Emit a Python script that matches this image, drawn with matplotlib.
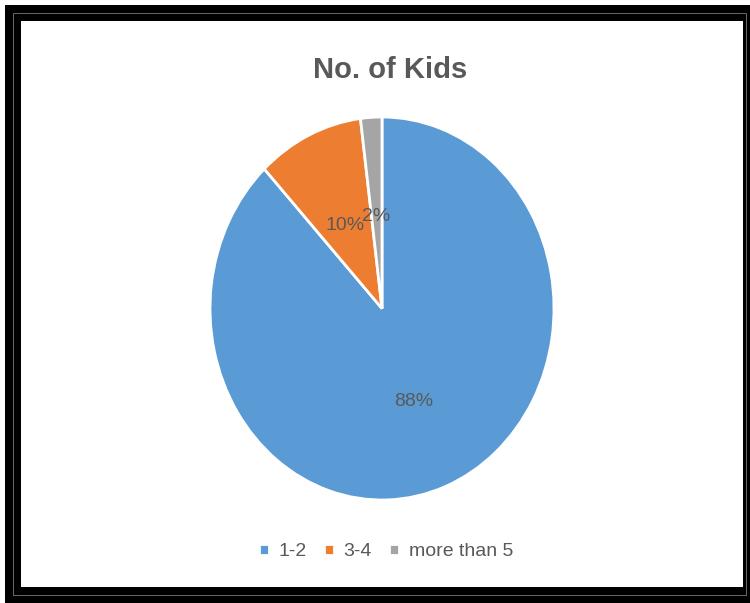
import matplotlib.pyplot as plt
from matplotlib.patches import Rectangle

# datos
categorias = ['1-2', '3-4', 'more than 5']
valores = [88, 10, 2]
colores = ['#5B9BD5', '#ED7D31', '#A5A5A5']

gris_texto = '#595959'
plt.rcParams['font.family'] = ['Liberation Sans', 'DejaVu Sans']

fig = plt.figure(figsize=(7.5, 6.03), dpi=100)
W, H = 750, 603

# marco negro con linea gris
fig.patches.append(Rectangle((5 / W, 0), 745 / W, 1 - 5 / H, transform=fig.transFigure,
                             facecolor='black', edgecolor='none', zorder=0))
fig.patches.append(Rectangle((13 / W, 8 / H), 733 / W, 1 - 21 / H, transform=fig.transFigure,
                             facecolor='none', edgecolor='#7a7a7a', linewidth=0.6, zorder=1))
fig.patches.append(Rectangle((21 / W, 16 / H), 722 / W, 1 - 37 / H, transform=fig.transFigure,
                             facecolor='white', edgecolor='none', zorder=2))

# pastel (eliptico como en la imagen)
ax = fig.add_axes([210 / W, (H - 500) / H, 344 / W, 383 / H])
ax.set_zorder(3)
wedges, textos, pct = ax.pie(valores, colors=colores, startangle=90, counterclock=False,
                             autopct='%1.0f%%', pctdistance=0.5,
                             wedgeprops=dict(edgecolor='white', linewidth=2),
                             textprops=dict(color=gris_texto, fontsize=14))
for t in pct:
    x, y = t.get_position()
    t.set_position((x, y - 0.02))
ax.set_aspect('auto')
ax.set_xlim(-1, 1)
ax.set_ylim(-1, 1)
ax.axis('off')

fig.text(390 / W, 1 - 70 / H, 'No. of Kids', ha='center', va='center',
         fontsize=21, fontweight='bold', color=gris_texto, zorder=4)

leg = fig.legend(wedges, categorias, loc='center', bbox_to_anchor=(386 / W, 1 - 552 / H),
                 ncol=3, frameon=False, fontsize=14, labelcolor=gris_texto,
                 handlelength=0.5, handleheight=0.5, handletextpad=0.5, columnspacing=0.9)
leg.set_zorder(4)

fig.savefig('out.png', dpi=100)
